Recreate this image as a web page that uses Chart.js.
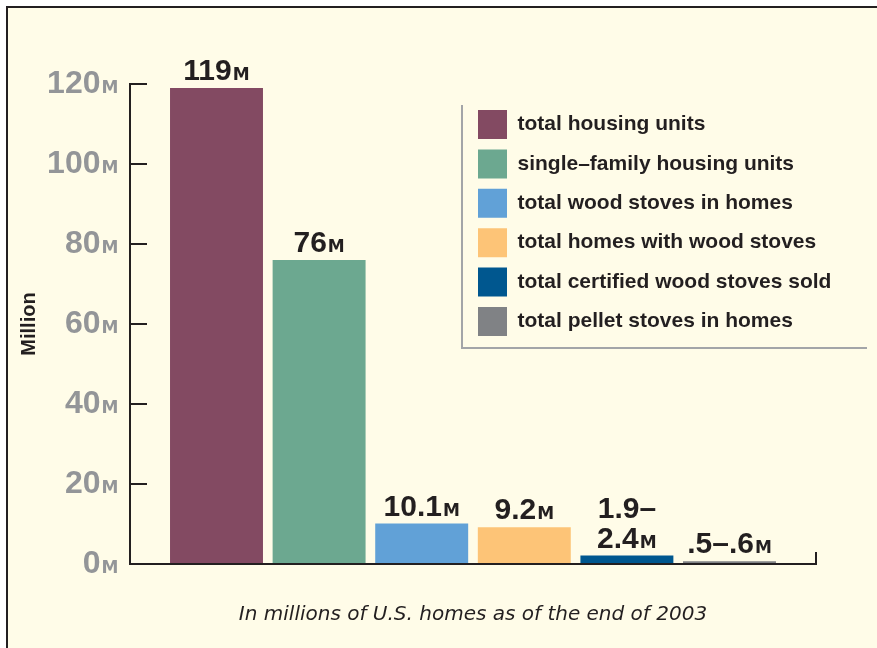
<!DOCTYPE html>
<html><head><meta charset="utf-8">
<script src="https://cdn.jsdelivr.net/npm/chart.js@4.4.1/dist/chart.umd.min.js"></script>
<style>html,body{margin:0;padding:0;background:#fff;} #wrap{width:877px;height:648px;position:relative;}</style>
</head><body><div id="wrap"><canvas id="c"></canvas></div>
<script>
// ---- data ----
const categories = ['total housing units', 'single–family housing units', 'total wood stoves in homes',
  'total homes with wood stoves', 'total certified wood stoves sold', 'total pellet stoves in homes'];
const values = [119, 76, 10.1, 9.2, 2.1, 0.7];
const valueLabels = [['119'], ['76'], ['10.1'], ['9.2'], ['1.9–', '2.4'], ['.5–.6']];
const unitSuffix = 'M';
const barColors = ['#834a62', '#6ca890', '#61a1d7', '#fdc477', '#00578f', '#808285'];
const yAxisTitle = 'Million';
const caption = 'In millions of U.S. homes as of the end of 2003';
const yMin = 0, yMax = 120, yStep = 20;

// ---- styles ----
const INK = '#231f20';
const GRAY = '#939598';
const SANS = "'Liberation Sans', Arial, sans-serif";
const WIDE = "'DejaVu Sans', sans-serif";

const framePlugin = {
  id: 'framePlugin',
  beforeDraw(chart) {
    const {ctx, width, height} = chart;
    ctx.save();
    ctx.fillStyle = '#ffffff'; ctx.fillRect(0, 0, width, height);
    ctx.fillStyle = '#fffce8'; ctx.fillRect(7, 7, width - 7, height - 7);
    ctx.strokeStyle = INK; ctx.lineWidth = 2;
    ctx.beginPath();
    ctx.moveTo(6, 7); ctx.lineTo(width, 7);
    ctx.moveTo(7, 6); ctx.lineTo(7, height);
    ctx.stroke();
    ctx.restore();
  }
};

const legendPlace = {
  id: 'legendPlace',
  afterLayout(chart, args, opts) {
    const lg = chart.legend; if (!lg) return;
    lg.left = opts.x; lg.top = opts.y; lg.right = chart.width; lg.bottom = chart.height;
    lg.width = lg.right - lg.left; lg.height = lg.bottom - lg.top;
    if (lg.adjustHitBoxes) lg.adjustHitBoxes();
  },
  beforeDatasetsDraw(chart, args, opts) {
    const {ctx} = chart;
    ctx.save();
    ctx.strokeStyle = '#a3a5a8'; ctx.lineWidth = 2;
    ctx.beginPath();
    ctx.moveTo(opts.frameLeft, opts.frameTop); ctx.lineTo(opts.frameLeft, opts.frameBottom);
    ctx.lineTo(opts.frameRight, opts.frameBottom);
    ctx.stroke();
    ctx.restore();
  }
};

const axesPlugin = {
  id: 'axesPlugin',
  afterDatasetsDraw(chart, args, opts) {
    const {ctx} = chart; const y = chart.scales.y;
    const x0 = opts.left, x1 = opts.right;
    const yb = y.getPixelForValue(yMin), yt = y.getPixelForValue(yMax);
    ctx.save();
    ctx.strokeStyle = INK; ctx.lineWidth = 2;
    ctx.beginPath();
    ctx.moveTo(x0, yt - 1); ctx.lineTo(x0, yb + 1);
    ctx.moveTo(x0 - 1, yb); ctx.lineTo(x1 + 1, yb);
    ctx.moveTo(x1, yb); ctx.lineTo(x1, yb - opts.endTick);
    y.ticks.forEach(t => {
      if (t.value === yMin) return;
      const py = y.getPixelForValue(t.value);
      ctx.moveTo(x0, py); ctx.lineTo(x0 + opts.tickLen, py);
    });
    ctx.stroke();

    // value labels above bars
    const meta = chart.getDatasetMeta(0);
    const big = 'bold 30px ' + SANS, small = 'bold 17px ' + WIDE;
    ctx.fillStyle = INK; ctx.textAlign = 'left'; ctx.textBaseline = 'alphabetic';
    meta.data.forEach((bar, i) => {
      const lines = valueLabels[i];
      let base = bar.y - 8;
      for (let k = lines.length - 1; k >= 0; k--) {
        const main = lines[k];
        const suf = (k === lines.length - 1) ? unitSuffix : '';
        ctx.font = big; const w1 = ctx.measureText(main).width;
        ctx.font = small; const w2 = suf ? ctx.measureText(suf).width + 1 : 0;
        const x = bar.x - (w1 + w2) / 2;
        ctx.font = big; ctx.fillText(main, x, base);
        if (suf) { ctx.font = small; ctx.fillText(suf, x + w1 + 1, base); }
        base -= 30;
      }
    });
    ctx.restore();
  },
  afterDraw(chart) {
    // small-cap unit after each y tick label
    const {ctx} = chart; const y = chart.scales.y;
    const right = y.right - y.options.ticks.padding;
    ctx.save();
    ctx.font = 'bold 32px ' + SANS; ctx.textBaseline = 'middle';
    const d = ctx.measureText('0').actualBoundingBoxDescent;
    ctx.font = 'bold 17px ' + WIDE; ctx.fillStyle = GRAY;
    ctx.textBaseline = 'alphabetic'; ctx.textAlign = 'left';
    y.ticks.forEach(t => {
      const py = y.getPixelForValue(t.value);
      ctx.fillText(unitSuffix, right + 1, py + d);
    });
    ctx.restore();
  }
};

new Chart(document.getElementById('c'), {
  type: 'bar',
  data: {
    labels: categories,
    datasets: [{
      label: 'Million',
      data: values,
      backgroundColor: barColors,
      borderWidth: 0,
      categoryPercentage: 1.0,
      barPercentage: 0.906
    }]
  },
  options: {
    responsive: true,
    maintainAspectRatio: false,
    devicePixelRatio: 1,
    animation: false,
    events: [],
    layout: {padding: {top: 84, right: 96.2, bottom: 0, left: 0}},
    scales: {
      x: {
        type: 'category',
        offset: true,
        ticks: {display: false},
        grid: {display: false, drawTicks: false},
        border: {display: false},
        title: {display: true, text: caption, color: INK,
          font: {family: WIDE, style: 'italic', size: 20, weight: 'normal'},
          padding: {top: 0, bottom: 21.5}},
        afterFit(s) { s.height = 84; }
      },
      y: {
        min: yMin, max: yMax,
        ticks: {stepSize: yStep, padding: 64.7, color: GRAY,
          font: {family: SANS, weight: 'bold', size: 32},
          callback: v => String(v)},
        grid: {display: false, drawTicks: false},
        border: {display: false},
        title: {display: true, text: yAxisTitle, color: INK,
          font: {family: SANS, weight: 'bold', size: 20},
          padding: {top: 17.5, bottom: 0}},
        afterFit(s) { s.width = 165.2; }
      }
    },
    plugins: {
      tooltip: {enabled: false},
      legend: {
        display: true,
        position: 'chartArea',
        align: 'start',
        onClick: null,
        labels: {
          boxWidth: 29, boxHeight: 29, padding: 10.4, color: INK,
          font: {family: SANS, weight: 'bold', size: 21},
          generateLabels: () => categories.map((c, i) => ({
            text: c, fillStyle: barColors[i], strokeStyle: barColors[i],
            lineWidth: 0, hidden: false, index: i, fontColor: INK
          }))
        }
      },
      legendPlace: {x: 467.6, y: 99.6, frameLeft: 462, frameTop: 105, frameBottom: 348, frameRight: 867},
      axesPlugin: {left: 130, right: 816, tickLen: 17, endTick: 12}
    }
  },
  plugins: [framePlugin, legendPlace, axesPlugin]
});
</script>
</body></html>
